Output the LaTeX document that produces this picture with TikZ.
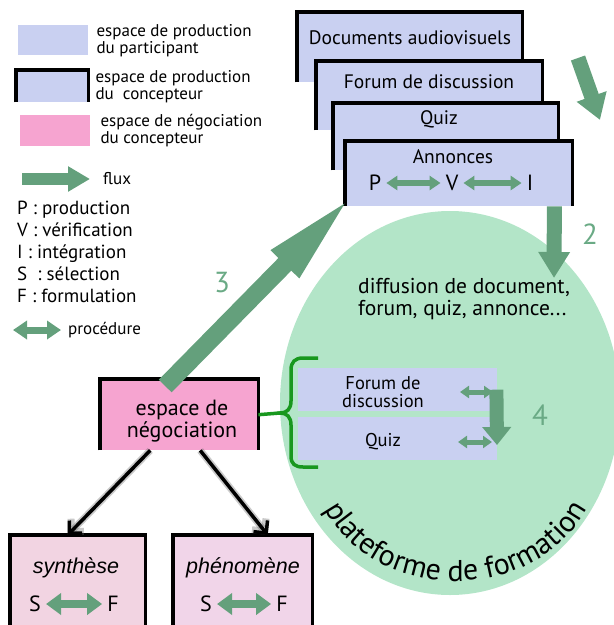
\documentclass[tikz,border=0pt]{standalone}
\usepackage{fontspec}
\setmainfont{PT Sans}
\newfontfamily\arialfont{Liberation Sans}
\usetikzlibrary{positioning,arrows.meta,decorations.text}
\definecolor{bleu}{RGB}{201,208,241}
\definecolor{rose}{RGB}{246,164,208}
\definecolor{rosepale}{RGB}{242,212,226}
\definecolor{rosemauve}{RGB}{241,213,233}
\definecolor{menthe}{RGB}{179,229,200}
\definecolor{vert}{RGB}{100,160,124}
\definecolor{vertnum}{RGB}{106,170,133}
\definecolor{accol}{RGB}{24,152,30}
\newcommand{\cadre}[1]{\draw[bord] (#1.south west) |- (#1.north east) -- (#1.south east);}
\tikzset{
  boite/.style={fill=bleu, inner sep=0pt, anchor=north west},
  bord/.style={line width=3.5pt},
  txt/.style={inner sep=0pt, align=center, font=\fontsize{19.5}{21}\selectfont},
  leg/.style={inner sep=0pt, align=left, font=\fontsize{17}{17}\selectfont},
  lettre/.style={inner sep=5pt, font=\fontsize{22}{22}\selectfont},
  gros/.style n args={3}{draw=vert, line width=#1, arrows={-Triangle[length=#2,width=#3]}},
  proc/.style n args={3}{draw=vert, line width=#1, arrows={Triangle[length=#2,width=#3]-Triangle[length=#2,width=#3]}},
  num/.style={text=vertnum, inner sep=0pt, font=\fontsize{29}{29}\selectfont},
  noir/.style={line width=3.5pt, arrows={-Straight Barb[length=9pt,width=18pt]},
    preaction={draw=black!60, line width=7pt, opacity=.35}},
  accolade/.style={draw=accol, line width=3.5pt},
}
\begin{document}
\begin{tikzpicture}[x=1pt,y=-1pt]
            \useasboundingbox (0,0) rectangle (614,625);
            \fill[menthe] (450,403) ellipse [x radius=170pt, y radius=192pt];
            \path[decorate, decoration={text along path, text align=center,
                text={|\fontsize{30}{30}\selectfont|plateforme de formation}}]
                (318,494) .. controls (362,610) and (548,610) .. (594,494);

            \node[boite, minimum width=70pt, minimum height=30pt] (legbleu) at (18,25) {};
            \node[leg, right=8pt of legbleu] (legtxt1) {espace de production\\du participant};
            \node[boite, minimum width=72pt, minimum height=32pt] (legcadre) at (16,70) {};
            \cadre{legcadre}
            \node[leg, right=7pt of legcadre] (legtxt2) {espace de production\\du\ \ concepteur};
            \node[boite, fill=rose, minimum width=70pt, minimum height=31pt] (legrose) at (20,115) {};
            \node[leg, right=10pt of legrose] (legtxt3) {espace de négociation\\du concepteur};
            \coordinate (fluxa) at (22,179);
            \coordinate (fluxb) at (90,179);
            \draw[gros={12pt}{22pt}{24pt}] (fluxa) -- (fluxb);
            \node[leg, right=13pt of fluxb] (legflux) {flux};
            \node[leg, anchor=north west, font=\fontsize{19}{22}\selectfont] (abrev) at (17,201)
                {P : production\\V : vérification\\I : intégration\\S\ \ : sélection\\F : formulation};
            \coordinate (proca) at (13,330);
            \coordinate (procb) at (61,330);
            \draw[proc={7pt}{14pt}{18pt}] (proca) -- (procb);
            \node[leg, right=7pt of procb] (legproc) {procédure};

            \node[boite, minimum width=225pt, minimum height=70pt] (docs) at (297,12) {};
            \cadre{docs}
            \node[txt] (docstxt) at (410,38) {Documents audiovisuels};
            \node[boite, minimum width=226pt, minimum height=69pt] (forum) at (316,61) {};
            \cadre{forum}
            \node[txt] (forumtxt) at (429,82) {Forum de discussion};
            \node[boite, minimum width=225pt, minimum height=67pt] (quiz) at (333,103) {};
            \cadre{quiz}
            \node[txt] (quiztxt) at (439,119) {Quiz};
            \node[boite, minimum width=227pt, minimum height=65pt] (annonces) at (345,141) {};
            \cadre{annonces}
            \node[txt] (anntxt) at (453,157) {Annonces};
            \node[lettre] (P) at (375,183) {P};
            \node[lettre] (V) at (452,183) {V};
            \node[lettre] (I) at (530,183) {I};
            \draw[proc={6pt}{11pt}{14pt}] (P) -- (V);
            \draw[proc={6pt}{11pt}{14pt}] (V) -- (I);

            \node[txt, align=left, anchor=north west, font=\fontsize{21.5}{22}\selectfont] (diffusion)
                at (358,278) {diffusion de document,\\forum, quiz, annonce...};

            \node[boite, minimum width=199pt, minimum height=43pt] (pforum) at (298,368) {};
            \node[boite, minimum width=199pt, minimum height=43pt] (pquiz) at (298,417) {};
            \node[txt, font=\fontsize{18.5}{17.5}\selectfont] (pforumtxt) at (383,392) {Forum de\\discussion};
            \node[txt, font=\fontsize{18.5}{18}\selectfont] (pquiztxt) at (383,442) {Quiz};
            \coordinate (fa) at (460,392);
            \coordinate (fb) at (493,392);
            \coordinate (qa) at (458,442);
            \coordinate (qb) at (492,442);
            \draw[proc={5pt}{9pt}{12pt}] (fa) -- (fb);
            \draw[proc={5pt}{9pt}{12pt}] (qa) -- (qb);

            \node[fill=rose, minimum width=158pt, minimum height=71pt, inner sep=0pt, anchor=north west] (nego) at (100,379) {};
            \cadre{nego}
            \node[txt, font=\fontsize{22}{22}\selectfont] (negotxt) at (182,421) {espace de\\négociation};
            \coordinate (pointe) at (280,413);
            \draw[accolade] (318,358) -- (303,358) .. controls (295,358) and (291,362) .. (291,370)
                -- (291,401) .. controls (291,409) and (287,413) .. (pointe)
                .. controls (287,413) and (291,417) .. (291,425)
                -- (291,456) .. controls (291,464) and (295,467) .. (303,467) -- (318,467);
            \draw[accolade] (nego.east) -- (pointe);

            \node[fill=rosepale, minimum width=135pt, minimum height=92pt, inner sep=0pt, anchor=north west] (synth) at (10,535) {};
            \cadre{synth}
            \node[txt, font=\arialfont\itshape\fontsize{21.5}{21.5}\selectfont] (synthtxt) at (76,568) {synthèse};
            \node[lettre] (S1) at (35,604) {S};
            \node[lettre] (F1) at (113,604) {F};
            \draw[proc={8pt}{15pt}{21pt}] (S1) -- (F1);
            \node[fill=rosemauve, minimum width=139pt, minimum height=92pt, inner sep=0pt, anchor=north west] (phen) at (173,535) {};
            \cadre{phen}
            \node[txt, font=\arialfont\itshape\fontsize{21.5}{21.5}\selectfont] (phentxt) at (243,568) {phénomène};
            \node[lettre] (S2) at (206,604) {S};
            \node[lettre] (F2) at (282,604) {F};
            \draw[proc={8pt}{15pt}{21pt}] (S2) -- (F2);

            \draw[noir] ([xshift=-29pt]nego.south) -- ([xshift=-10pt]synth.north);
            \draw[noir] ([xshift=21pt]nego.south) -- ([xshift=25pt]phen.north);

            \coordinate (un) at (578,58);
            \coordinate (unb) at (600,120);
            \draw[gros={15pt}{25pt}{30pt}] (un) -- (unb);
            \coordinate (deux) at (554,278);
            \draw[gros={15pt}{26pt}{30pt}] ([xshift=-18pt]annonces.south east) -- (deux);
            \node[num] (n2) at (590,234) {2};
            \draw[gros={18pt}{100pt}{34pt}] ([shift={(-14,7)}]nego.north) -- ([shift={(10,52)}]annonces.north west);
            \node[num] (n3) at (222,283) {3};
            \coordinate (quatre) at (497,445);
            \draw[gros={14pt}{18pt}{28pt}] ([xshift=-1pt]pforum.east) -- (quatre);
            \node[num] (n4) at (540,415) {4};
\end{tikzpicture}
\end{document}
